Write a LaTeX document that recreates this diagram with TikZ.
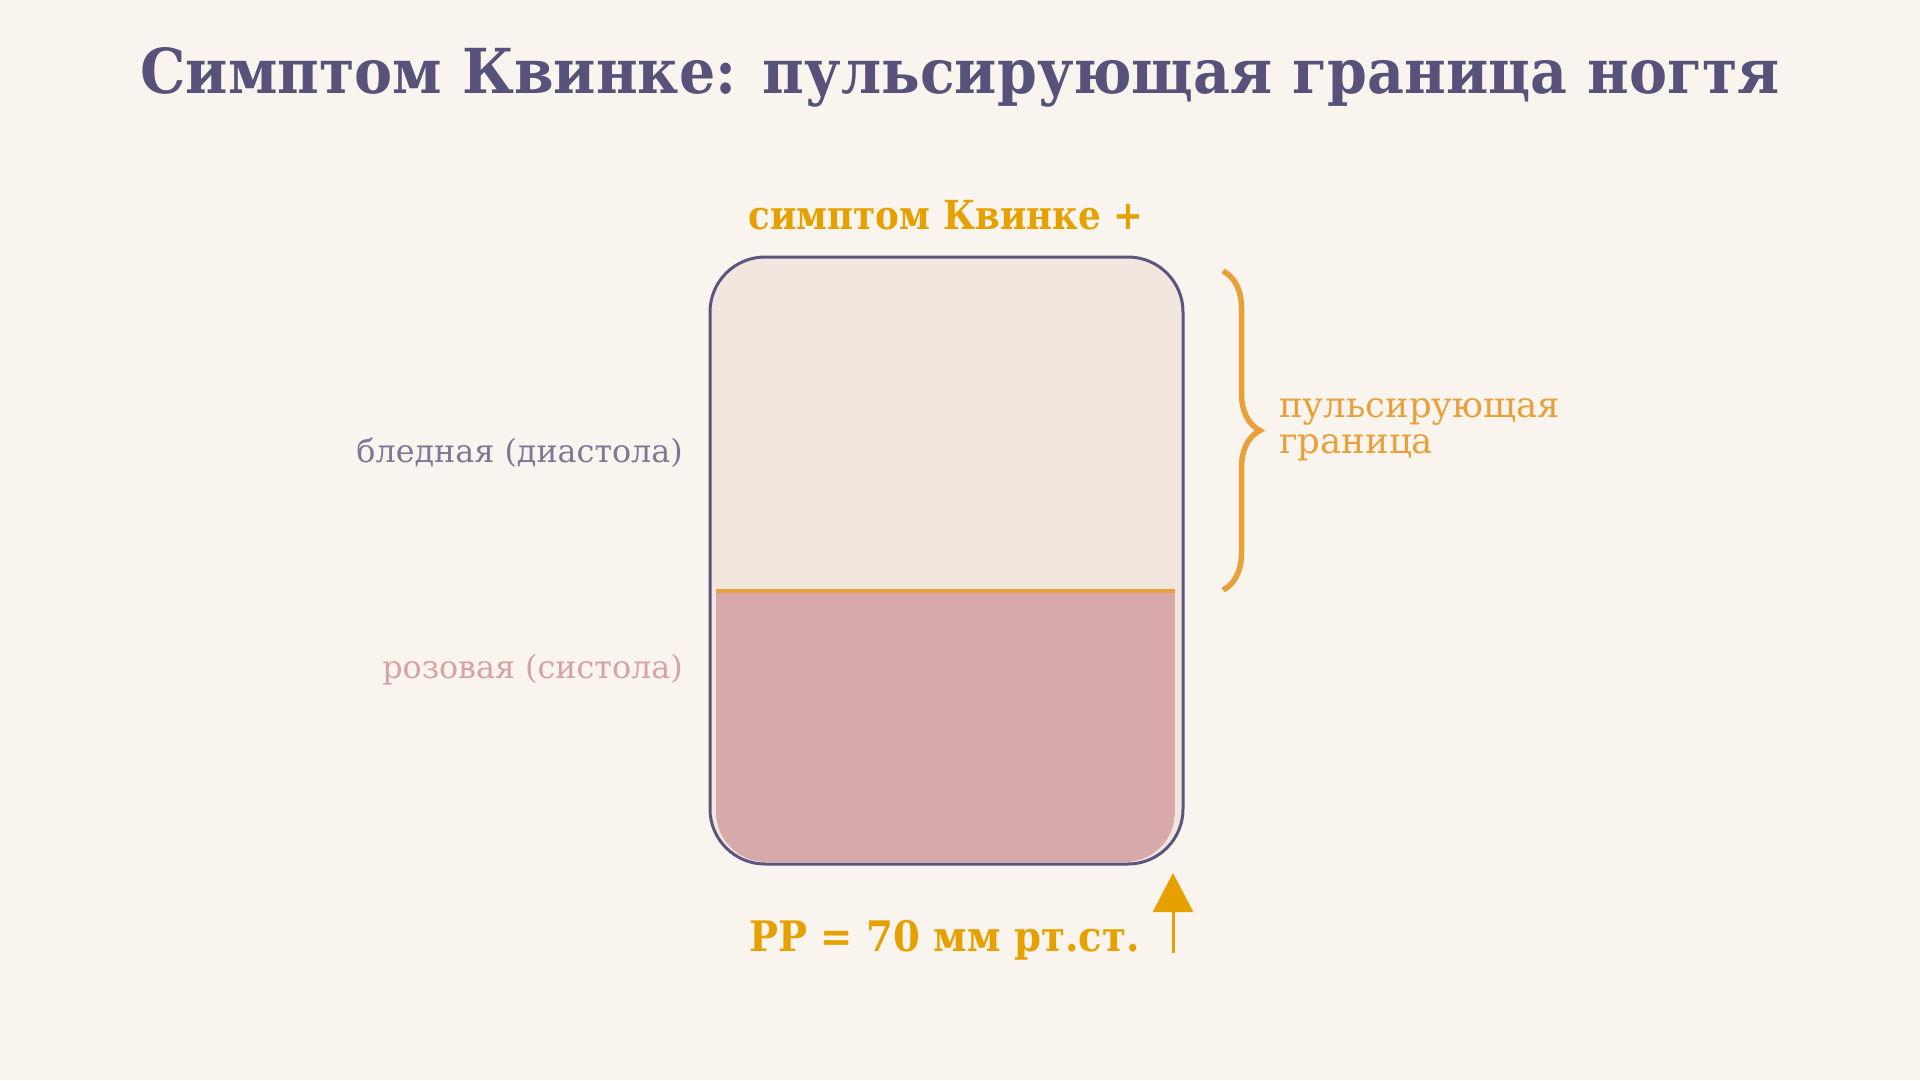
\documentclass[tikz,border=0pt]{standalone}
\usepackage{fontspec}
\setmainfont{DejaVu Serif}
\newfontfamily\titlefont[FakeStretch=0.92]{DejaVu Serif}
\newfontfamily\subfont[FakeStretch=0.89]{DejaVu Serif}
\newfontfamily\labelfont{DejaVu Serif}
\usetikzlibrary{arrows.meta,decorations.pathreplacing}
\definecolor{bgcol}{HTML}{FAF4EE}
\definecolor{titlecol}{HTML}{575279}
\definecolor{boxcol}{HTML}{5B5680}
\definecolor{uppercol}{HTML}{F2E6DE}
\definecolor{pinkcol}{HTML}{D8A9AA}
\definecolor{orangecol}{HTML}{E9A03B}
\definecolor{goldcol}{HTML}{E6A100}
\definecolor{greylab}{HTML}{7D7896}
\definecolor{pinklab}{HTML}{D6A3A4}
\tikzset{
  lab/.style={inner sep=0pt, font=\labelfont\fontsize{31.8}{38}\selectfont},
  rlab/.style={inner sep=0pt, font=\labelfont\fontsize{35.5}{42}\selectfont},
}
\begin{document}
\begin{tikzpicture}[x=1pt,y=-1pt]
\useasboundingbox (0,0) rectangle (1920,1080);
\fill[bgcol] (0,0) rectangle (1920,1080);
% title
\node[inner sep=0pt, anchor=base, text=titlecol, font=\titlefont\bfseries\fontsize{62}{70}\selectfont] (title) at (960,93) {Симптом Квинке: пульсирующая граница ногтя};
% subtitle
\node[inner sep=0pt, anchor=base, text=goldcol, font=\subfont\bfseries\fontsize{40}{48}\selectfont] (sub) at (946,229) {симптом Квинке +};
% nail
\node[draw=boxcol, line width=3, fill=uppercol, rounded corners=55, minimum width=473, minimum height=607, inner sep=0pt] (nail) at (946.5,560.5) {};
\begin{scope}
  \clip[rounded corners=50] (716,400) rectangle (1175,862);
  \fill[pinkcol] (716,593) rectangle (1175,862);
\end{scope}
\draw[orangecol, line width=4] (716,591) -- (1175,591);
% labels
\node[lab, anchor=base east, text=greylab] (pale) at (683,462) {бледная (диастола)};
\node[lab, anchor=base east, text=pinklab] (pink) at (683,678) {розовая (систола)};
% brace
\coordinate (bt) at (1223,271);
\coordinate (bb) at (1223,590);
\draw[orangecol, line width=5.5, decorate, decoration={brace, amplitude=37}] (bt) -- (bb);
\node[rlab, anchor=base west, text=orangecol] (pul1) at (1279,417) {пульсирующая};
\node[rlab, anchor=base west, text=orangecol] (pul2) at (1279,453) {граница};
% PP
\node[inner sep=0pt, anchor=base east, text=goldcol, font=\titlefont\bfseries\fontsize{42}{50}\selectfont] (pp) at (1140,951) {PP = 70 мм рт.ст.};
\coordinate (as) at (1173,953);
\coordinate (at) at (1173,873);
\draw[goldcol, line width=3, -{Triangle[width=40,length=39]}] (as) -- (at);
\end{tikzpicture}
\end{document}
